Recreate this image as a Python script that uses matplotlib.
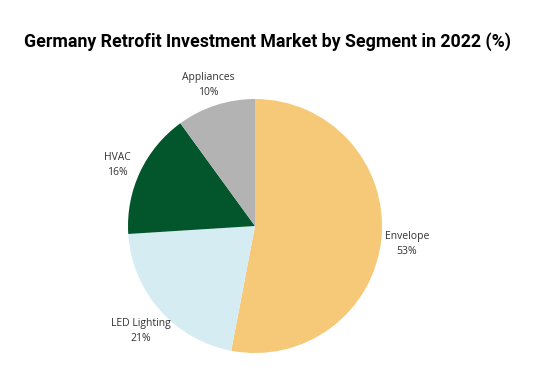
import matplotlib
matplotlib.use("Agg")
import matplotlib.pyplot as plt

segments = ["Envelope", "LED Lighting", "HVAC", "Appliances"]
shares = [53, 21, 16, 10]
colors = ["#F5C978", "#D6ECF3", "#03552B", "#B3B3B3"]

fig = plt.figure(figsize=(5.43, 3.79), dpi=100)
fig.patch.set_facecolor("white")

# pie centred at about (255, 226) px, radius ~127 px
cx, cy, r = 255 / 543, 1 - 226 / 379, 127
ax = fig.add_axes([cx - r / 543, cy - r / 379, 2 * r / 543, 2 * r / 379])

labels = [f"{s}\n{v}%" for s, v in zip(segments, shares)]
wedges, texts = ax.pie(shares, labels=labels, colors=colors, startangle=90,
                       counterclock=False, labeldistance=1.2,
                       textprops=dict(fontsize=7.5, color="#333333",
                                      family="Open Sans", linespacing=1.5))
for t in texts:
    x, y = t.get_position()
    t.set_position((x, y - 0.03))  # labels sit a little low in the original
    t.set_ha("center")
    t.set_va("center")
ax.set_xlim(-1, 1)
ax.set_ylim(-1, 1)
ax.set_aspect("auto")

fig.text(268 / 543, 1 - 42 / 379, "Germany Retrofit Investment Market by Segment in 2022 (%)",
         ha="center", va="center", fontsize=12.8, fontweight="bold", family="Roboto")

fig.savefig("out.png", dpi=100)
